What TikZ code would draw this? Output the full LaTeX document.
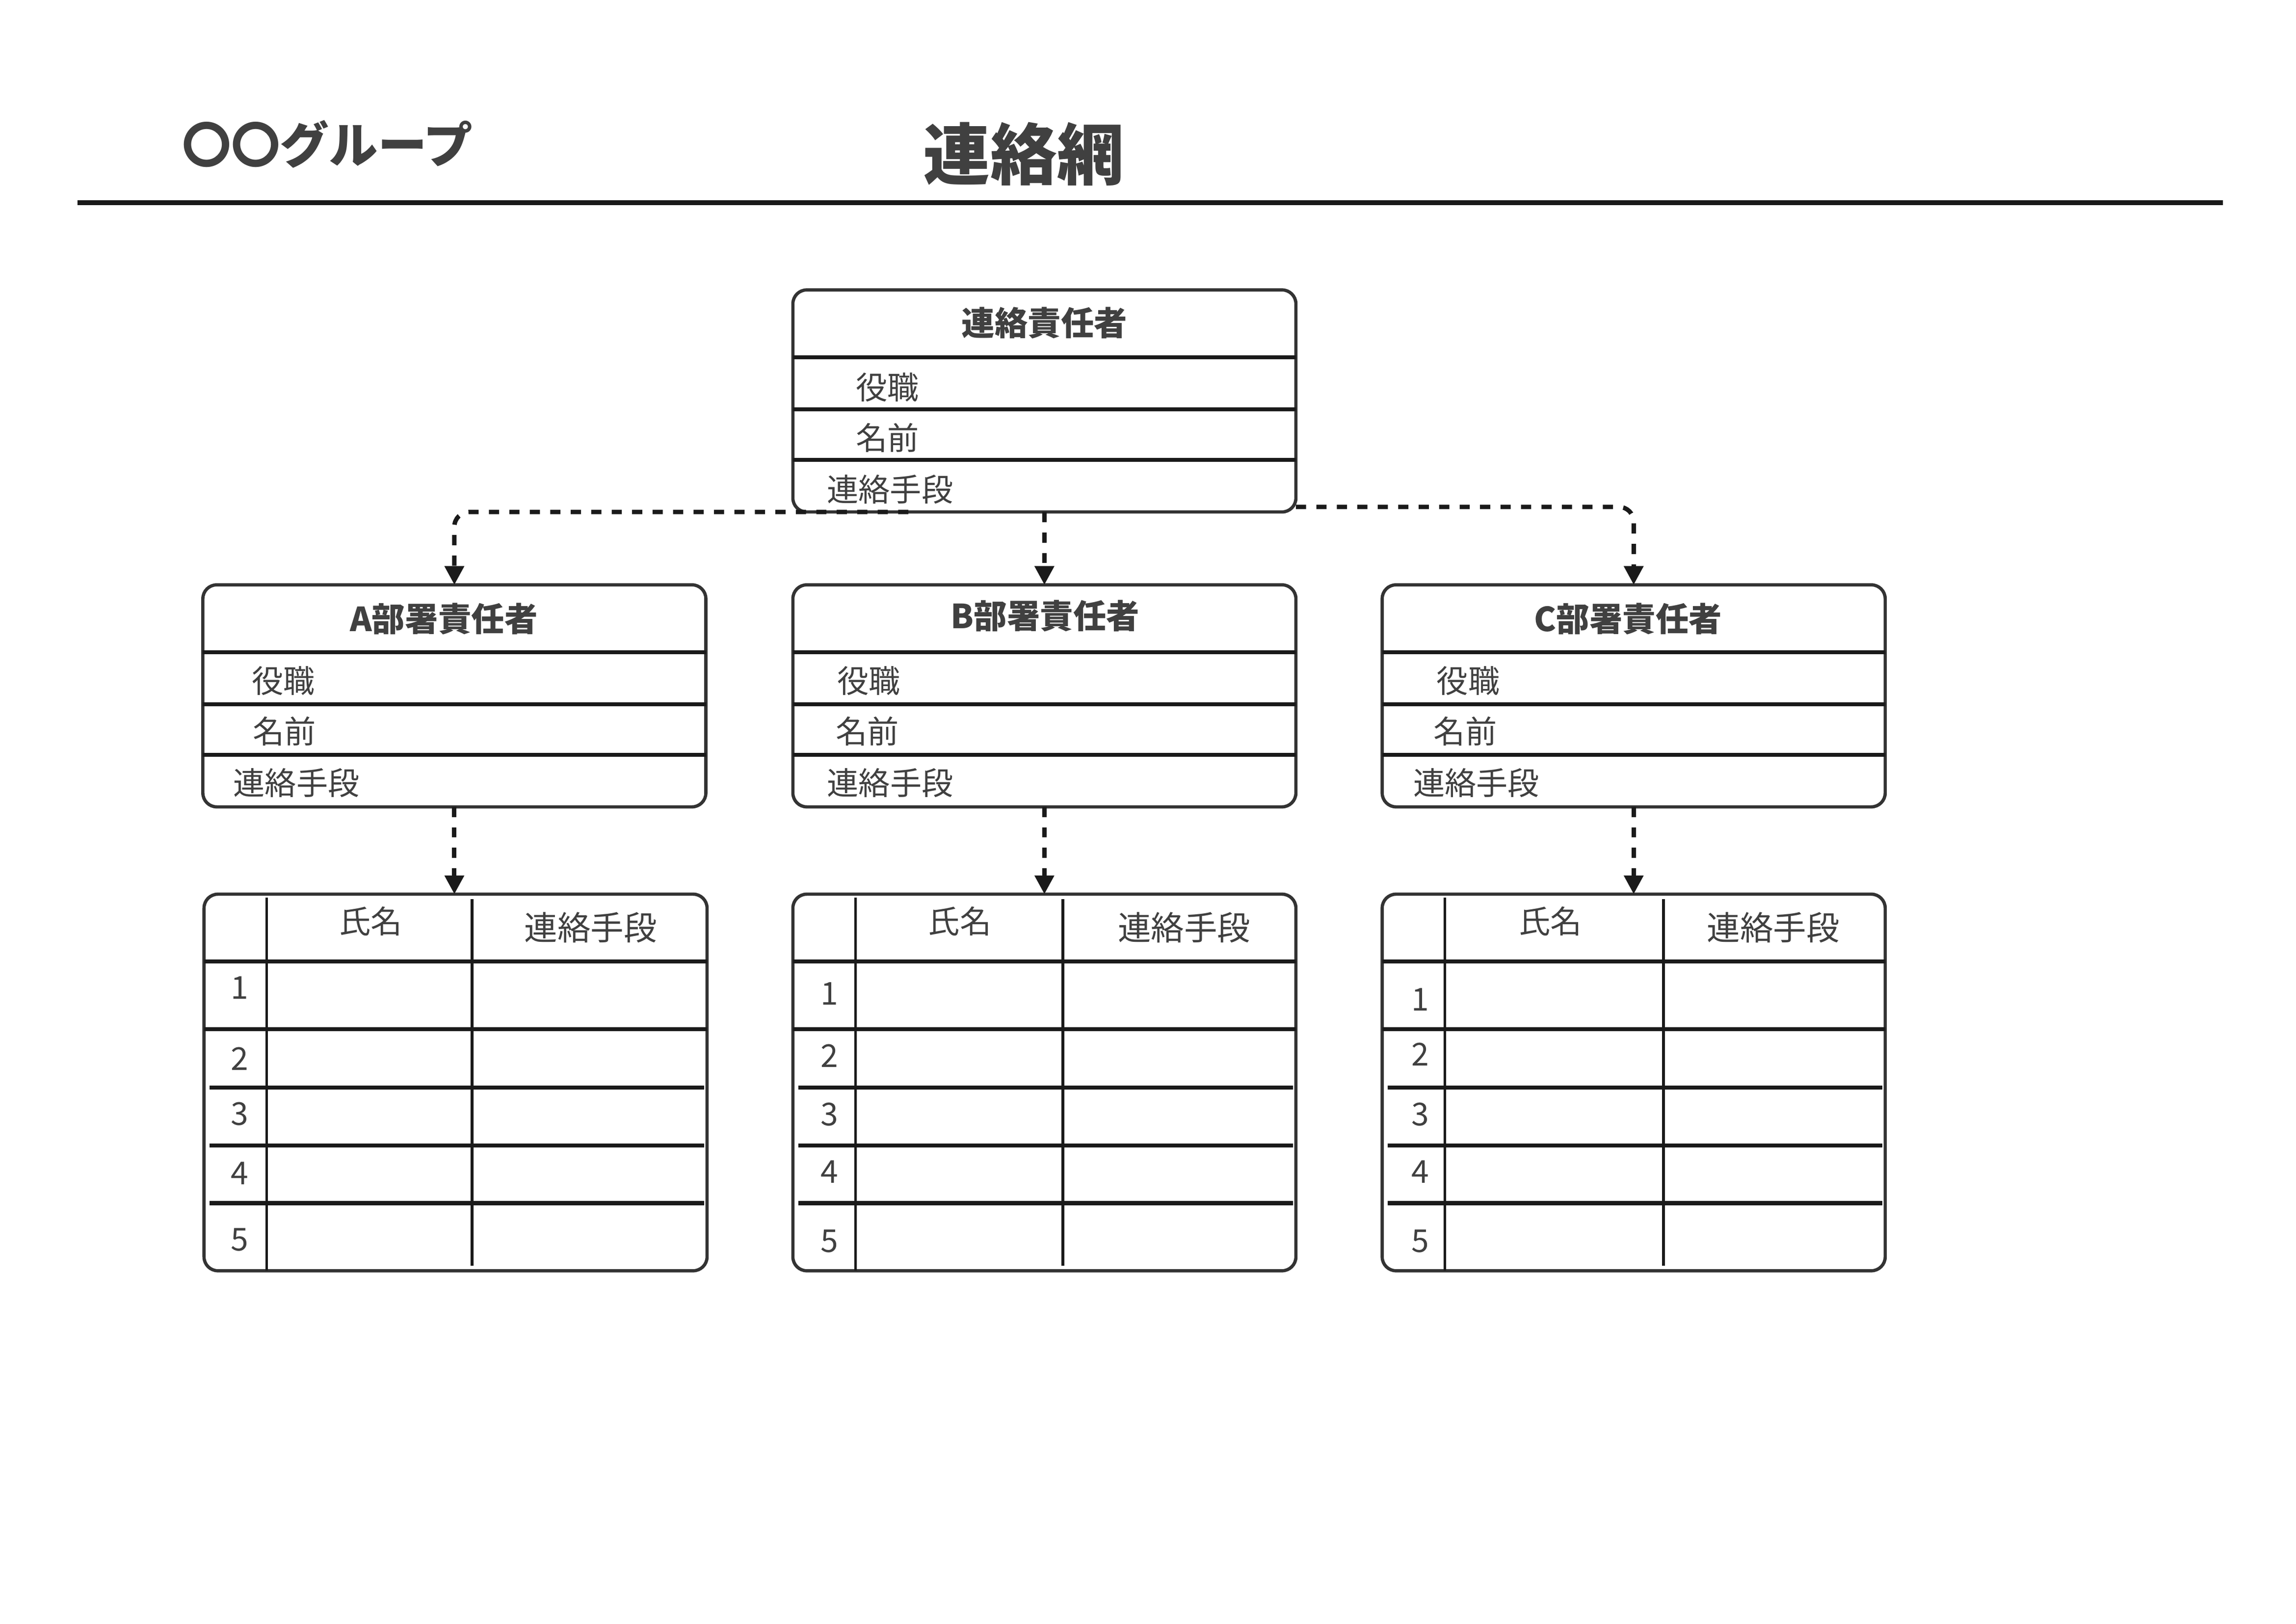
\documentclass[tikz,border=0pt]{standalone}
\usepackage{fontspec}
\setmainfont{Noto Sans CJK JP}
\usetikzlibrary{arrows.meta,calc}
\definecolor{bordc}{HTML}{333333}
\definecolor{divc}{HTML}{1A1A1A}
\definecolor{txtc}{HTML}{404040}
\tikzset{
  ibox/.style={draw=bordc, line width=0.42mm, rounded corners=1.8mm, minimum width=65.07mm, minimum height=28.72mm, inner sep=0pt, outer sep=0pt, anchor=north west},
  tbox/.style={ibox, minimum height=48.71mm},
  divline/.style={draw=divc, line width=0.53mm},
  colline/.style={draw=divc, line width=0.36mm},
  conn/.style={draw=divc, line width=0.57mm, dash pattern=on 1.314mm off 1.333mm, rounded corners=1.9mm},
  arr/.style={conn, -{Triangle[length=2.42mm,width=2.42mm]}},
  lbl/.style={text=txtc, inner sep=0pt, font=\fontsize{11.6pt}{13pt}\selectfont},
  thdr/.style={text=txtc, inner sep=0pt, font=\fontsize{12.2pt}{14pt}\selectfont},
  hdr/.style={text=txtc, inner sep=0pt, font=\fontsize{12.2pt}{14pt}\selectfont\bfseries},
}
\newcommand\infobox[3]{%
  \node[ibox] (#1) at (#2,#3) {};
  \draw[divline] (#2,#3+45.8) -- (#2+341.7,#3+45.8);
  \draw[divline] (#2,#3+81.1) -- (#2+341.7,#3+81.1);
  \draw[divline] (#2,#3+115.4) -- (#2+341.7,#3+115.4);
}
\newcommand\contacttable[3]{%
  \node[tbox] (#1) at (#2,607.3) {};
  \draw[colline] (#2+42.6,609.5) -- (#2+42.6,863);
  \draw[colline] (#2+#3,610.6) -- (#2+#3,859.6);
  \draw[divline] (#2,653) -- (#2+341.7,653);
  \draw[divline] (#2,698.9) -- (#2+341.7,698.9);
  \foreach \yy in {738.6,778,817.2} {\draw[divline] (#2+3.6,\yy) -- (#2+339.7,\yy);}
}
\begin{document}
\begin{tikzpicture}[x=0.190425mm, y=-0.190425mm]
\useasboundingbox[fill=white] (0,0) rectangle (1559.67,1103);

% header
\node[text=txtc, anchor=west, inner sep=0pt, font=\fontsize{18pt}{20pt}\selectfont\bfseries] (group) at (123.5,97.8) {〇〇グループ};
\node[text=txtc, inner sep=0pt, font=\fontsize{24.6pt}{27pt}\selectfont\bfseries] (title) at (695.4,104.7) {連絡網};
\coordinate (ruleL) at (52.8,137.6);
\coordinate (ruleR) at (1510,137.6);
\draw[draw=divc, line width=0.63mm] (ruleL) -- (ruleR);

% top box
\infobox{top}{538.6}{196.9}
\node[hdr] (top-h) at (709.5,219.4) {連絡責任者};
\node[lbl, anchor=west] (top-r1) at (581,263.2) {役職};
\node[lbl, anchor=west] (top-r2) at (581,297.2) {名前};
\node[lbl, anchor=west] (top-r3) at (561.4,332.5) {連絡手段};

% department boxes
\infobox{A}{137.8}{397.2}
\node[hdr] (A-h) at (301.5,420.2) {A部署責任者};
\node[lbl, anchor=west] (A-r1) at (170.7,462.3) {役職};
\node[lbl, anchor=west] (A-r2) at (171.4,496.7) {名前};
\node[lbl, anchor=west] (A-r3) at (158.2,531.8) {連絡手段};

\infobox{B}{538.6}{397.2}
\node[hdr] (B-h) at (710,418.2) {B部署責任者};
\node[lbl, anchor=west] (B-r1) at (568.4,462.3) {役職};
\node[lbl, anchor=west] (B-r2) at (567.4,496.7) {名前};
\node[lbl, anchor=west] (B-r3) at (561.5,531.8) {連絡手段};

\infobox{C}{938.9}{397.2}
\node[hdr] (C-h) at (1106,420.2) {C部署責任者};
\node[lbl, anchor=west] (C-r1) at (975.6,462.3) {役職};
\node[lbl, anchor=west] (C-r2) at (973.6,496.7) {名前};
\node[lbl, anchor=west] (C-r3) at (959.7,531.8) {連絡手段};

% tables
\contacttable{tA}{138.6}{182}
\node[lbl] (tA-h1) at (138.6+113.3,625.7) {氏名};
\node[thdr] (tA-h2) at (138.6+262.6,630) {連絡手段};
\node[lbl] (tA-1) at (162.7,671) {1};
\node[lbl] (tA-2) at (162.7,719) {2};
\node[lbl] (tA-3) at (162.7,756.5) {3};
\node[lbl] (tA-4) at (162.7,797) {4};
\node[lbl] (tA-5) at (162.7,842) {5};

\contacttable{tB}{538.6}{183.3}
\node[lbl] (tB-h1) at (538.6+113.4,625.7) {氏名};
\node[thdr] (tB-h2) at (538.6+265.8,630) {連絡手段};
\node[lbl] (tB-1) at (563.5,675) {1};
\node[lbl] (tB-2) at (563.5,717) {2};
\node[lbl] (tB-3) at (563.5,757) {3};
\node[lbl] (tB-4) at (563.5,796) {4};
\node[lbl] (tB-5) at (563.5,843) {5};

\contacttable{tC}{938.9}{191}
\node[lbl] (tC-h1) at (938.9+114.2,625.7) {氏名};
\node[thdr] (tC-h2) at (938.9+265.7,630) {連絡手段};
\node[lbl] (tC-1) at (964.7,679) {1};
\node[lbl] (tC-2) at (964.7,716) {2};
\node[lbl] (tC-3) at (964.7,757) {3};
\node[lbl] (tC-4) at (964.7,796) {4};
\node[lbl] (tC-5) at (964.7,843) {5};

% connectors
\coordinate (lstart) at ($(top.south west)+(78.4,0)$);
\coordinate (rstart) at ($(top.south east)+(0,-3.4)$);
\draw[arr] (lstart) -- (lstart -| A.north) -- (A.north);
\draw[arr] (top.south) -- (B.north);
\draw[arr] (rstart) -- (rstart -| C.north) -- (C.north);
\draw[arr] (A.south) -- (A.south |- tA.north);
\draw[arr] (B.south) -- (B.south |- tB.north);
\draw[arr] (C.south) -- (C.south |- tC.north);
\end{tikzpicture}
\end{document}
